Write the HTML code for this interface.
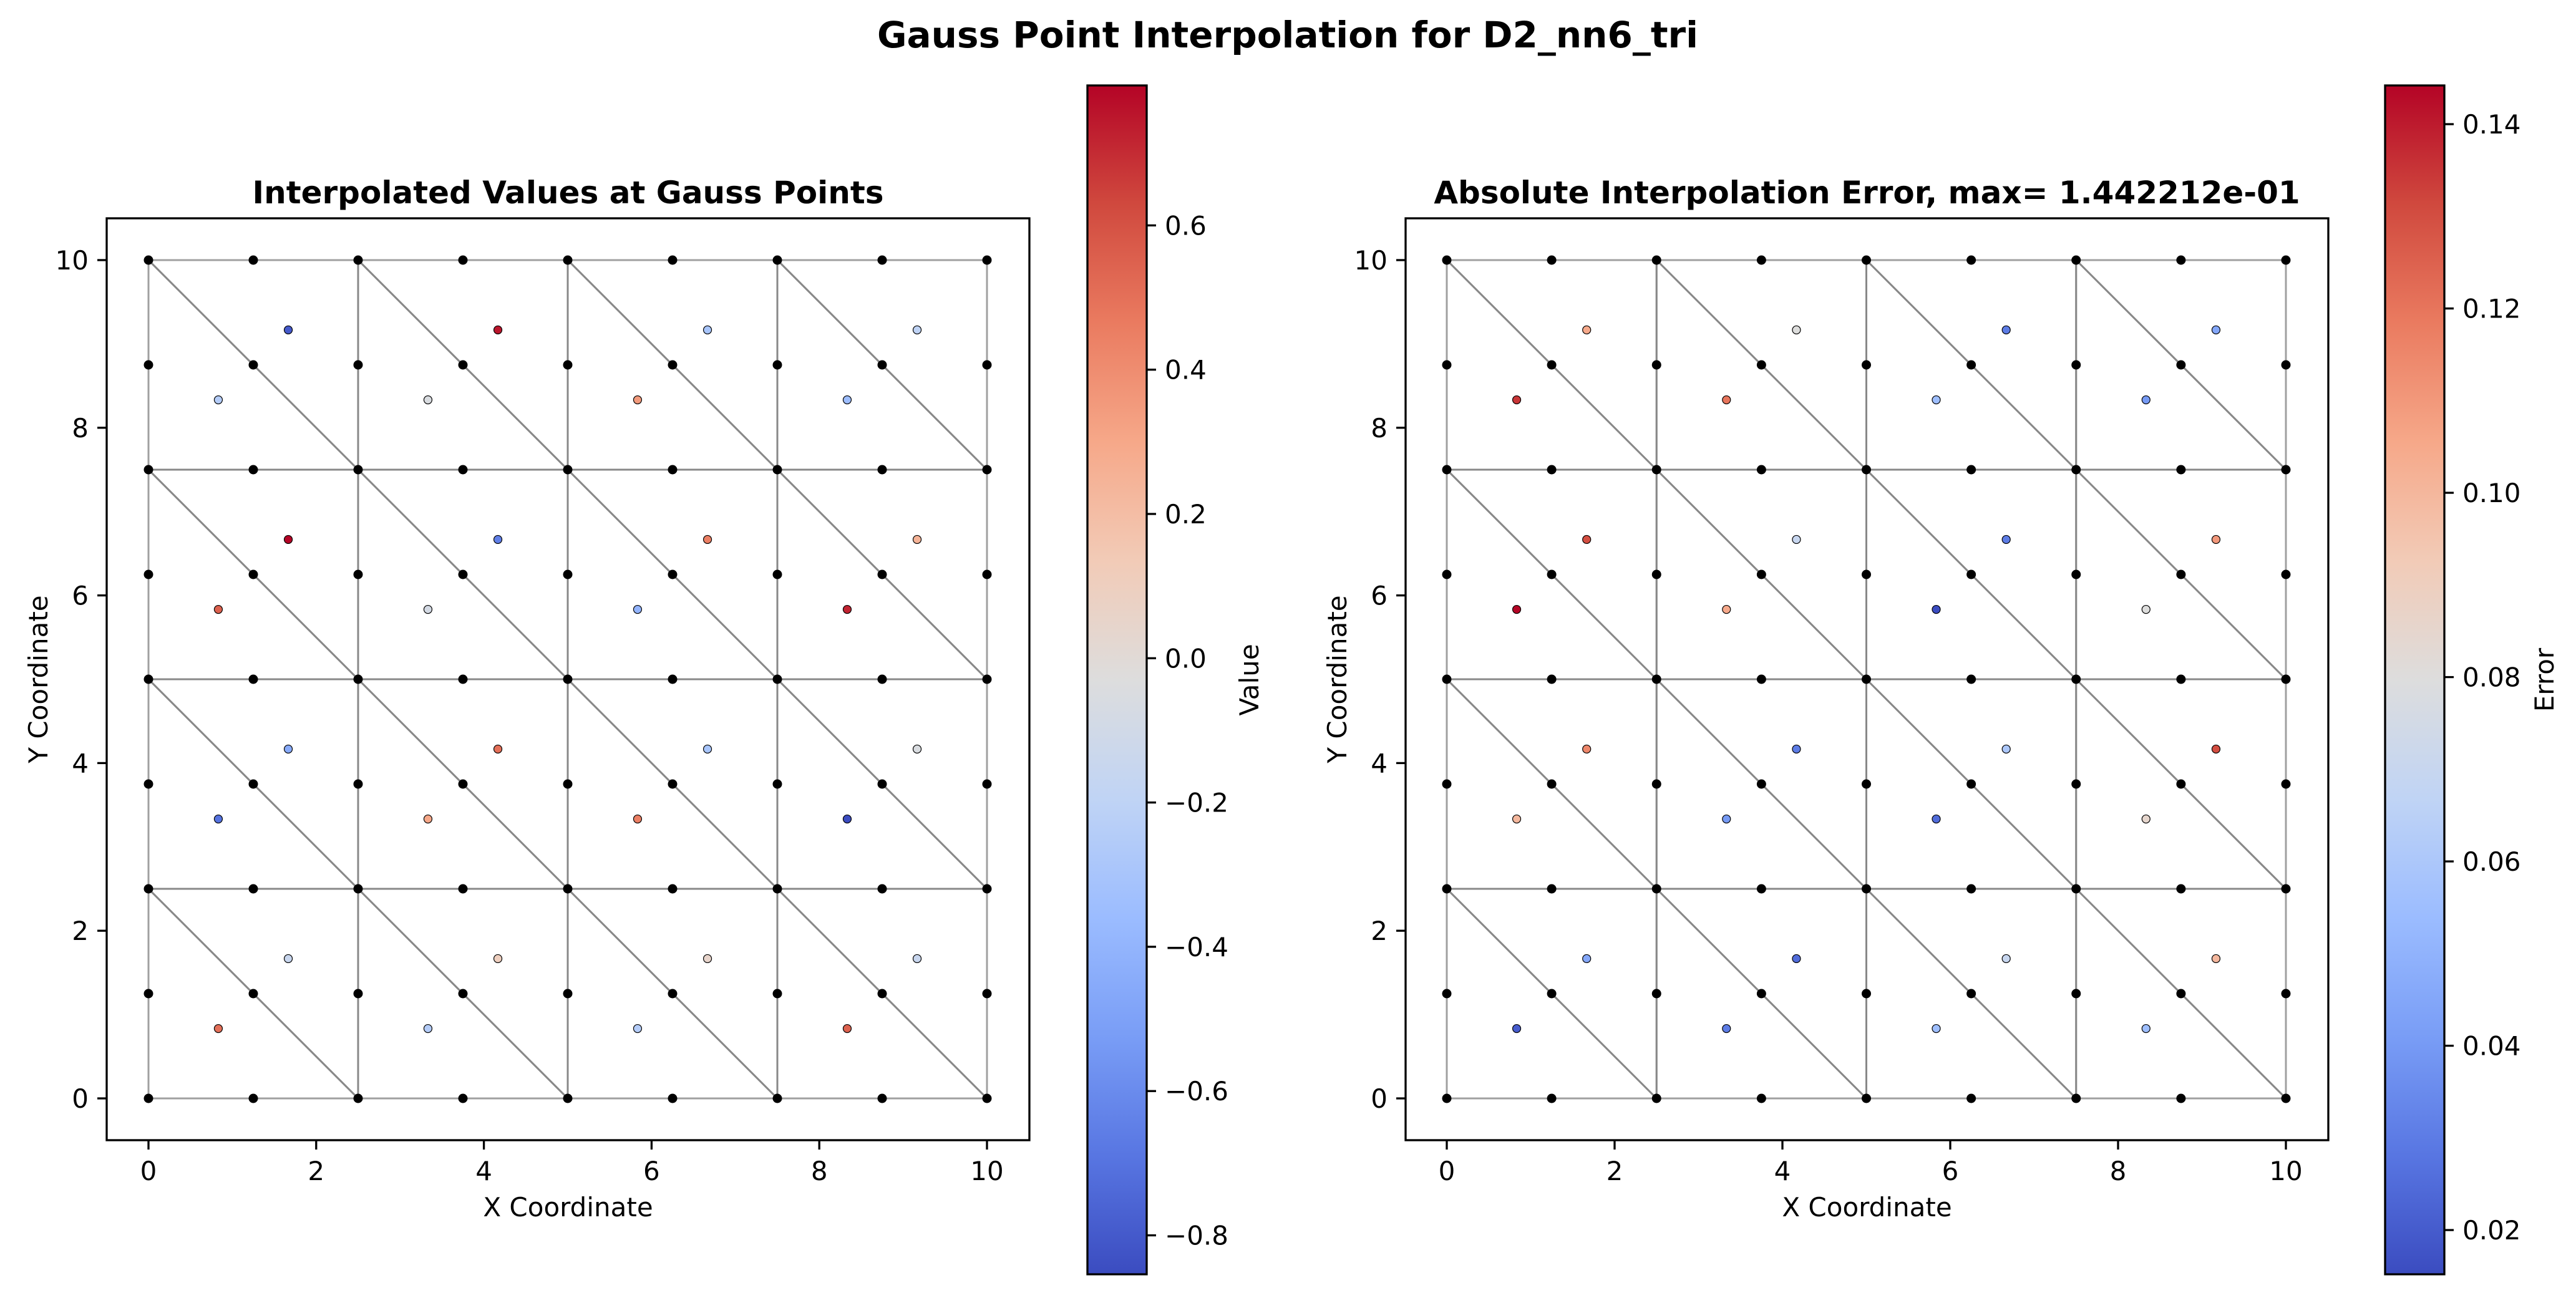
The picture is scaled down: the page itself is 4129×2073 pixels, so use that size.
<!DOCTYPE html>
<html><head><meta charset="utf-8">
<style>
html,body{margin:0;padding:0;background:#fff;}
svg{display:block;font-family:"DejaVu Sans","Liberation Sans",sans-serif;}
</style></head>
<body>
<svg id="fig" width="4129" height="2073" viewBox="0 0 4129 2073" xmlns="http://www.w3.org/2000/svg">
<rect width="4129" height="2073" fill="#fff"/>
<text x="2064" y="76" font-size="58" font-weight="bold" text-anchor="middle">Gauss Point Interpolation for D2_nn6_tri</text>
<defs>
<linearGradient id="cw" x1="0" y1="1" x2="0" y2="0">
<stop offset="0" stop-color="rgb(59,76,192)"/><stop offset="0.1" stop-color="rgb(88,118,226)"/>
<stop offset="0.2" stop-color="rgb(121,157,246)"/><stop offset="0.3" stop-color="rgb(155,188,255)"/>
<stop offset="0.4" stop-color="rgb(192,212,245)"/><stop offset="0.5" stop-color="rgb(221,221,221)"/>
<stop offset="0.6" stop-color="rgb(242,203,183)"/><stop offset="0.7" stop-color="rgb(246,168,137)"/>
<stop offset="0.8" stop-color="rgb(234,123,96)"/><stop offset="0.9" stop-color="rgb(208,73,62)"/>
<stop offset="1" stop-color="rgb(180,4,38)"/>
</linearGradient>
</defs>
<g id="left"></g>
<g id="right"></g>
</svg>
<script>
// Gauss point (triangle centroid) coordinates
const gaussX = [0.833,1.667,3.333,4.167,5.833,6.667,8.333,9.167, 0.833,1.667,3.333,4.167,5.833,6.667,8.333,9.167, 0.833,1.667,3.333,4.167,5.833,6.667,8.333,9.167, 0.833,1.667,3.333,4.167,5.833,6.667,8.333,9.167];
const gaussY = [8.333,9.167,8.333,9.167,8.333,9.167,8.333,9.167, 5.833,6.667,5.833,6.667,5.833,6.667,5.833,6.667, 3.333,4.167,3.333,4.167,3.333,4.167,3.333,4.167, 0.833,1.667,0.833,1.667,0.833,1.667,0.833,1.667];
const interpValues = [-0.25,-0.8,-0.05,0.75,0.35,-0.3,-0.35,-0.2, 0.55,0.794,-0.08,-0.65,-0.4,0.45,0.72,0.25, -0.7,-0.45,0.3,0.5,0.45,-0.3,-0.854,-0.05, 0.5,-0.15,-0.25,0.1,-0.25,0.05,0.55,-0.15];
const errorValues = [0.135,0.105,0.12,0.08,0.055,0.03,0.04,0.045, 0.1442,0.13,0.105,0.07,0.0152,0.03,0.08,0.11, 0.1,0.115,0.04,0.03,0.025,0.06,0.085,0.13, 0.02,0.045,0.03,0.025,0.055,0.07,0.055,0.1];
const axisTicks = [0,2,4,6,8,10];
const valueCbTicks = [-0.8,-0.6,-0.4,-0.2,0.0,0.2,0.4,0.6];
const valueCbLabels = ["\u22120.8","\u22120.6","\u22120.4","\u22120.2","0.0","0.2","0.4","0.6"];
const errorCbTicks = [0.02,0.04,0.06,0.08,0.10,0.12,0.14];
const errorCbLabels = ["0.02","0.04","0.06","0.08","0.10","0.12","0.14"];
const nodeCoords = [0,1.25,2.5,3.75,5,6.25,7.5,8.75,10];
const squares = [0,2.5,5,7.5];

const NS="http://www.w3.org/2000/svg";
function mk(p,tag,at){const e=document.createElementNS(NS,tag);for(const k in at)e.setAttribute(k,at[k]);p.appendChild(e);return e;}
const stops=[[59,76,192],[88,118,226],[121,157,246],[155,188,255],[192,212,245],[221,221,221],[242,203,183],[246,168,137],[234,123,96],[208,73,62],[180,4,38]];
function cmap(t){t=Math.max(0,Math.min(1,t));const f=t*10;const i=Math.min(9,Math.floor(f));const r=f-i;const a=stops[i],b=stops[i+1];
return `rgb(${Math.round(a[0]+(b[0]-a[0])*r)},${Math.round(a[1]+(b[1]-a[1])*r)},${Math.round(a[2]+(b[2]-a[2])*r)})`;}

function panel(g,cfg){
  const AL=cfg.al,AR=cfg.ar,AT=350,AB=1828;
  const X0=cfg.x0,X10=cfg.x10,Y10=417,Y0=1761;
  const sx=v=>X0+(X10-X0)*v/10, sy=v=>Y0+(Y10-Y0)*v/10;
  const t=mk(g,'text',{x:(AL+AR)/2,y:326,'font-size':50,'font-weight':'bold','text-anchor':'middle'});t.textContent=cfg.title;
  
  
  const mesh=mk(g,'g',{});
  
  
  for(const x0 of squares)for(const y0 of squares){
    const x1=x0+2.5,y1=y0+2.5;
    mk(mesh,'polygon',{points:`${sx(x0)},${sy(y0)} ${sx(x1)},${sy(y0)} ${sx(x0)},${sy(y1)}`,fill:'none',stroke:'#808080','stroke-opacity':0.75,'stroke-width':3});
    mk(mesh,'polygon',{points:`${sx(x1)},${sy(y0)} ${sx(x1)},${sy(y1)} ${sx(x0)},${sy(y1)}`,fill:'none',stroke:'#808080','stroke-opacity':0.75,'stroke-width':3});
  }
  const nodes=mk(g,'g',{});
  
  
  for(const x of nodeCoords)for(const y of nodeCoords){
    const c=mk(nodes,'circle',{cx:sx(x),cy:sy(y),r:7.5,fill:'#000'});
    
    
  }
  const vals=cfg.vals;const vmin=Math.min(...vals),vmax=Math.max(...vals);
  const pts=mk(g,'g',{});
  
  
  vals.forEach((v,i)=>{
    const c=mk(pts,'circle',{cx:sx(gaussX[i]),cy:sy(gaussY[i]),r:6.5,fill:cmap((v-vmin)/(vmax-vmin)),stroke:'#000','stroke-width':1.2});
    
    
  });
  const fr=mk(g,'rect',{x:AL,y:AT,width:AR-AL,height:AB-AT,fill:'none',stroke:'#000','stroke-width':3.3});
  
  
  for(const tv of axisTicks){
    const x=sx(tv);mk(g,'line',{x1:x,y1:AB,x2:x,y2:AB+15,stroke:'#000','stroke-width':3.3});
    const tx=mk(g,'text',{x:x,y:1892,'font-size':42,'text-anchor':'middle'});tx.textContent=tv;
    
    
    const y=sy(tv);mk(g,'line',{x1:AL,y1:y,x2:AL-15,y2:y,stroke:'#000','stroke-width':3.3});
    const ty=mk(g,'text',{x:AL-29,y:y+15,'font-size':42,'text-anchor':'end'});ty.textContent=tv;
    
    
  }
  const xl=mk(g,'text',{x:(AL+AR)/2,y:1950,'font-size':42,'text-anchor':'middle'});xl.textContent='X Coordinate';
  
  
  const yx=AL-110;
  const yl=mk(g,'text',{x:yx,y:(AT+AB)/2,'font-size':42,'text-anchor':'middle',transform:`rotate(-90 ${yx} ${(AT+AB)/2})`,dy:15});yl.textContent='Y Coordinate';
  
  
  // colorbar
  const CL=cfg.cl,CR=cfg.cl+95,CT=137,CB=2043;
  const cb=mk(g,'rect',{x:CL,y:CT,width:CR-CL,height:CB-CT,fill:'url(#cw)',stroke:'#000','stroke-width':3.3});
  
  
  const cy=v=>CB-(v-vmin)/(vmax-vmin)*(CB-CT);
  cfg.ticks.forEach((tv,i)=>{
    const y=cy(tv);mk(g,'line',{x1:CR,y1:y,x2:CR+15,y2:y,stroke:'#000','stroke-width':3.3});
    const tl=mk(g,'text',{x:CR+29,y:y+15,'font-size':42});tl.textContent=cfg.labels[i];
    
    
  });
  const lx=cfg.lx,ly=(CT+CB)/2;
  const cl=mk(g,'text',{x:lx,y:ly,'font-size':42,'text-anchor':'middle',transform:`rotate(-90 ${lx} ${ly})`,dy:15});cl.textContent=cfg.cbLabel;
  
  
}
panel(document.getElementById('left'),{al:171,ar:1650,x0:238,x10:1582,title:'Interpolated Values at Gauss Points',vals:interpValues,cl:1743,ticks:valueCbTicks,labels:valueCbLabels,cbLabel:'Value',lx:2002});
panel(document.getElementById('right'),{al:2253,ar:3732,x0:2319,x10:3664,title:'Absolute Interpolation Error, max= 1.442212e-01',vals:errorValues,cl:3823,ticks:errorCbTicks,labels:errorCbLabels,cbLabel:'Error',lx:4078});
</script>
</body></html>
